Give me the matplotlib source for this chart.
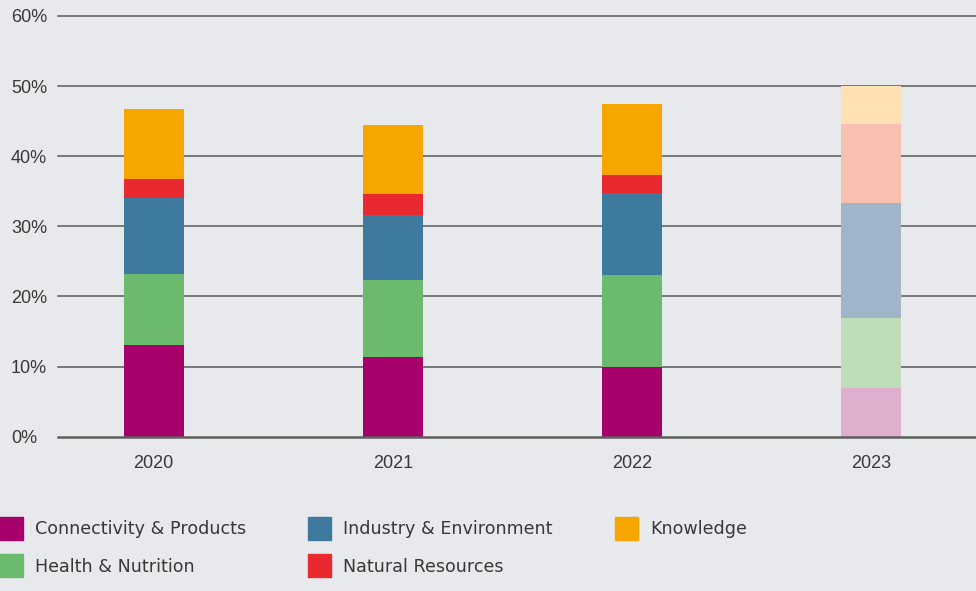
import matplotlib
matplotlib.use("Agg")
import matplotlib.pyplot as plt
from matplotlib.patches import Rectangle
import numpy as np

plt.rcParams['font.family'] = ['Liberation Sans', 'DejaVu Sans']

years = ["2020", "2021", "2022", "2023"]
series_names = ["Connectivity & Products", "Health & Nutrition",
                "Industry & Environment", "Natural Resources", "Knowledge"]
connectivity = [13.1, 11.3, 9.9, 6.9]
health = [10.1, 11.0, 13.2, 10.1]
industry = [10.8, 9.3, 11.6, 16.3]
natural = [2.8, 3.0, 2.6, 11.3]
knowledge = [9.9, 9.8, 10.1, 5.4]
y_ticks = [0, 10, 20, 30, 40, 50, 60]

colors = ["#A8006B", "#6BBA6E", "#3D7A9E", "#E8292F", "#F7A600"]
light_colors = ["#DEB0CE", "#BFDDB8", "#A1B5CA", "#F7C0B0", "#FFE1B3"]
bg = "#E8E9ED"
text_color = "#383838"

W, H = 976, 591
fig = plt.figure(figsize=(W / 100, H / 100), dpi=100, facecolor=bg)
ax = fig.add_axes([58/W, 1 - 436.7/H, 1 - 58/W, (436.7 - 16)/H])
ax.set_facecolor(bg)

data = [connectivity, health, industry, natural, knowledge]
x = np.arange(len(years))
bottom = np.zeros(len(years))
for i, vals in enumerate(data):
    vals = np.array(vals)
    cols = [colors[i]] * (len(years) - 1) + [light_colors[i]]
    ax.bar(x, vals, width=0.25, bottom=bottom, color=cols, zorder=3, linewidth=0)
    bottom += vals

ax.set_ylim(0, 60)
ax.set_xlim(-0.40, 3.44)
for t in y_ticks:
    if t:
        ax.axhline(t, color="#5e5e5e", linewidth=1.15, zorder=2, clip_on=False)
    else:
        ax.axhline(t, color="#5e5e5e", linewidth=1.8, zorder=4, clip_on=False)
    ax.annotate(f"{t}%", xy=(0, t), xycoords=("figure pixels", "data"),
                xytext=(11, -6.5), textcoords="offset pixels",
                ha="left", va="baseline", fontsize=13, color=text_color,
                annotation_clip=False)
for i, yr in enumerate(years):
    ax.annotate(yr, xy=(i, 0), xycoords=("data", "axes fraction"),
                xytext=(0, -31.5), textcoords="offset pixels",
                ha="center", va="baseline", fontsize=13, color=text_color,
                annotation_clip=False)
ax.set_xticks([])
ax.set_yticks([])
for s in ax.spines.values():
    s.set_visible(False)
ax.grid(False)

# legend (manual, in figure pixels)
legend_items = [
    (0, 528.5, 0), (0, 565.5, 1),
    (308, 528.5, 2), (308, 565.5, 3),
    (615, 528.5, 4),
]
sq = 23
for lx, ly, idx in legend_items:
    fig.patches.append(Rectangle((lx / W, 1 - (ly + sq / 2) / H), sq / W, sq / H,
                                 transform=fig.transFigure, color=colors[idx]))
    fig.text((lx + 35) / W, 1 - (ly + 6) / H, series_names[idx], ha="left",
             va="baseline", fontsize=12.6, color=text_color,
             family=['DejaVu Sans'])

fig.savefig("out.png", dpi=100, facecolor=bg)
